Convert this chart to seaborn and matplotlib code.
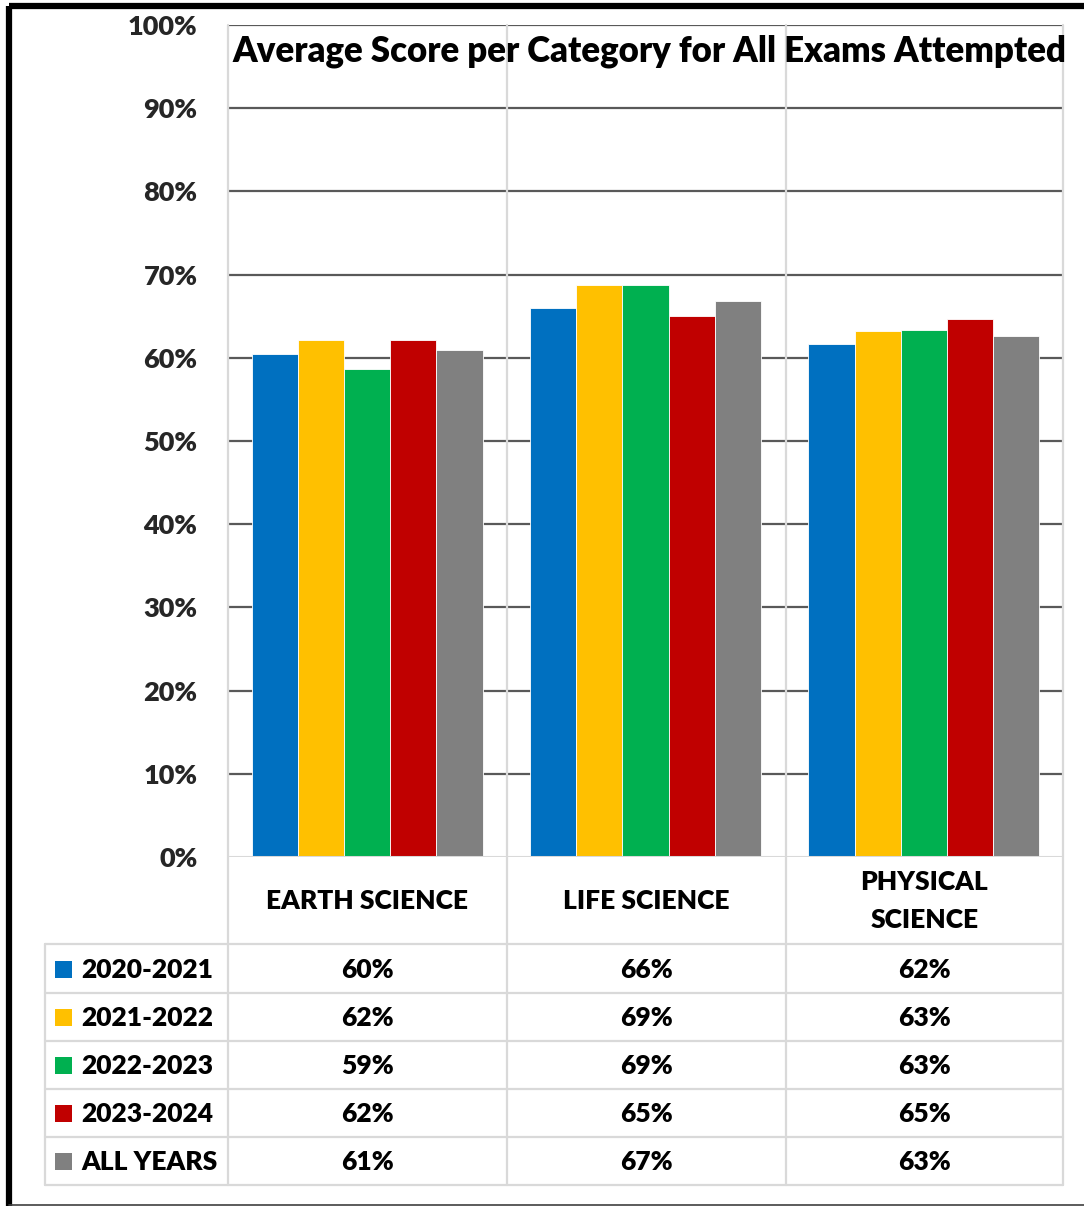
import pandas as pd
import matplotlib
matplotlib.use('Agg')
import matplotlib.pyplot as plt
import seaborn as sns

# Chart data
categories = ['EARTH SCIENCE', 'LIFE SCIENCE', 'PHYSICAL SCIENCE']
cat_labels = ['EARTH SCIENCE', 'LIFE SCIENCE', 'PHYSICAL\nSCIENCE']
series = ['2020-2021', '2021-2022', '2022-2023', '2023-2024', 'ALL YEARS']
scores = {
    '2020-2021': [60.4, 66.0, 61.6],
    '2021-2022': [62.1, 68.8, 63.2],
    '2022-2023': [58.6, 68.8, 63.3],
    '2023-2024': [62.1, 65.0, 64.7],
    'ALL YEARS': [60.9, 66.8, 62.6],
}
colors = ['#0070C0', '#FFC000', '#00B050', '#C00000', '#808080']
yticks = [0, 10, 20, 30, 40, 50, 60, 70, 80, 90, 100]

# long format for seaborn
rows = []
for s in series:
    for c, v in zip(categories, scores[s]):
        rows.append({'category': c, 'series': s, 'score': v})
df = pd.DataFrame(rows)

sns.set_theme(style='white')
plt.rcParams['font.family'] = ['Lato', 'DejaVu Sans']
plt.rcParams['font.weight'] = 'heavy'
FW = 'heavy'

W, H = 1084, 1206
fig = plt.figure(figsize=(W / 100, H / 100), dpi=100)
fig.patch.set_facecolor('white')

# plot area in pixels: x 228..1063, y 25..857
px_l, px_r, px_t, px_b = 228, 1063, 25, 857
ax = fig.add_axes([px_l / W, 1 - px_b / H, (px_r - px_l) / W, (px_b - px_t) / H])
sns.barplot(data=df, x='category', y='score', hue='series', order=categories,
            hue_order=series, palette=colors, width=0.83, gap=0,
            edgecolor='white', linewidth=0.6, saturation=1, legend=False, ax=ax)
ax.set_xlim(-0.5, 2.5)
ax.set_ylim(0, 100)
ax.set_yticks(yticks)
ax.set_yticklabels([f'{t}%' for t in yticks], fontsize=19.5, fontweight=FW)
ax.tick_params(axis='y', length=0, pad=22)
ax.set_xticks([])
ax.set_xlabel('')
ax.set_ylabel('')
for sp in ax.spines.values():
    sp.set_visible(False)
for t in yticks[1:]:
    ax.axhline(t, color='#595959', lw=1.6, zorder=0)
ax.axhline(0, color='#d9d9d9', lw=2.2, zorder=3)

# overlay in pixel coordinates for title, table and border
ov = fig.add_axes([0, 0, 1, 1], facecolor='none')
ov.set_xlim(0, W)
ov.set_ylim(H, 0)
ov.axis('off')

grid_c = '#d9d9d9'
col_x = [228, 507, 786, 1063]
row_y = [944, 993, 1041, 1089, 1137, 1185]
for x in col_x:
    ov.plot([x, x], [px_t, row_y[-1]], color=grid_c, lw=1.6, zorder=1)
ov.plot([45, 45], [row_y[0], row_y[-1]], color=grid_c, lw=1.6)
for y in row_y:
    ov.plot([45, 1063], [y, y], color=grid_c, lw=1.6)

ov.text(649, 51, 'Average Score per Category for All Exams Attempted',
        ha='center', va='center', fontsize=25, fontweight=FW, color='black')

centers = [(col_x[i] + col_x[i + 1]) / 2 for i in range(3)]
for cx, lab in zip(centers, cat_labels):
    ov.text(cx, 901, lab, ha='center', va='center', fontsize=19, fontweight=FW,
            linespacing=1.75, color='black')

for r, (s, c) in enumerate(zip(series, colors)):
    yc = (row_y[r] + row_y[r + 1]) / 2 + 1
    ov.add_patch(plt.Rectangle((55, yc - 9), 17, 17, color=c, lw=0))
    ov.text(81, yc, s, ha='left', va='center', fontsize=19, fontweight=FW, color='black')
    for cx, v in zip(centers, scores[s]):
        ov.text(cx, yc, f'{v:.0f}%', ha='center', va='center', fontsize=19,
                fontweight=FW, color='black')

# outer frame (right side falls outside the picture)
ov.plot([9, 9], [6, H], color='black', lw=4.5, solid_capstyle='butt')
ov.plot([9, W], [6, 6], color='black', lw=4.5, solid_capstyle='butt')
ov.plot([9, W], [1205, 1205], color='#404040', lw=1.2)

fig.savefig('out.png', dpi=100, facecolor='white')
